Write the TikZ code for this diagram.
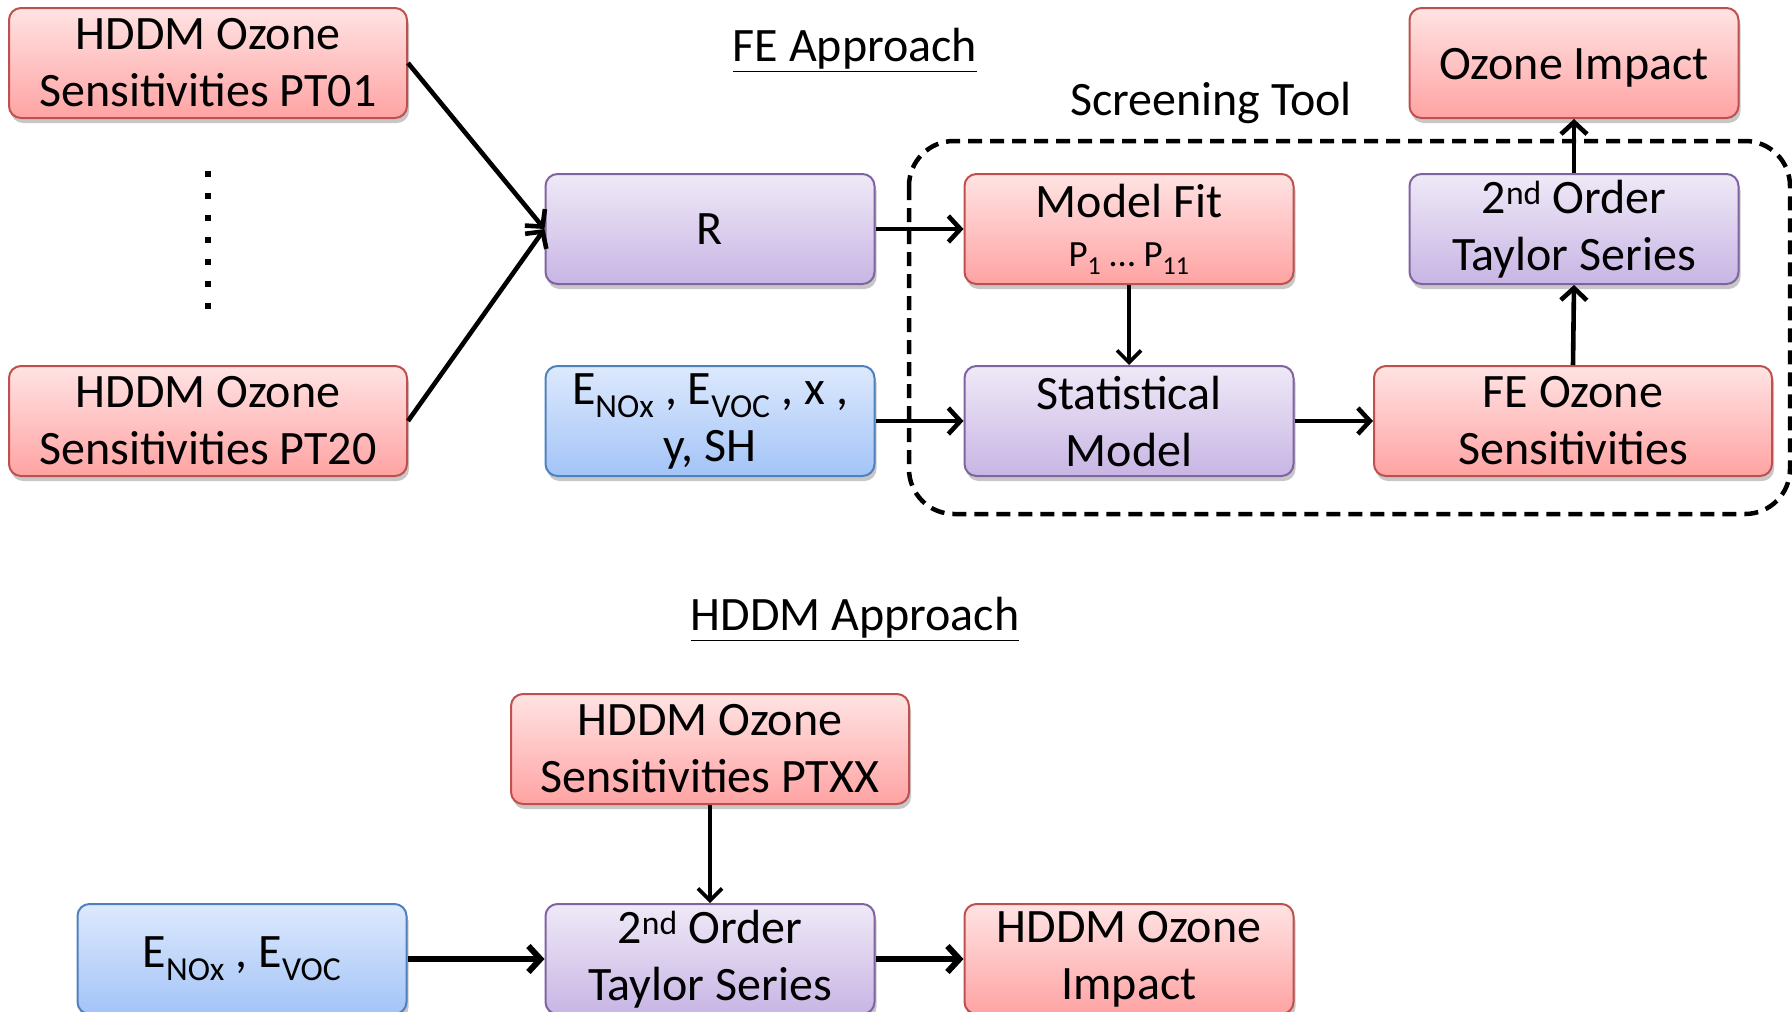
\documentclass[tikz,border=0pt]{standalone}
\usepackage{fontspec}
\setmainfont{Carlito}
\usetikzlibrary{arrows.meta,shadows}
\definecolor{redB}{HTML}{C0504D}
\definecolor{redT}{HTML}{FFE3E3}
\definecolor{redBot}{HTML}{FFA3A3}
\definecolor{purB}{HTML}{8064A2}
\definecolor{purT}{HTML}{EFE9F7}
\definecolor{purBot}{HTML}{C8B5E4}
\definecolor{bluB}{HTML}{4F81BD}
\definecolor{bluT}{HTML}{DDE9FD}
\definecolor{bluBot}{HTML}{A3C4F7}
\begin{document}
\begin{tikzpicture}[x=1pt,y=-1pt,
  box/.style={rounded corners=12pt, line width=2pt, minimum height=110pt,
    align=center, inner sep=0pt, font=\fontsize{48}{57}\selectfont,
    drop shadow={shadow xshift=2pt, shadow yshift=-5pt, opacity=0.22, fill=black}},
  redbox/.style={box, draw=redB, top color=redT, bottom color=redBot},
  purbox/.style={box, draw=purB, top color=purT, bottom color=purBot},
  blubox/.style={box, draw=bluB, top color=bluT, bottom color=bluBot},
  wbox/.style={minimum width=398pt},
  nbox/.style={minimum width=329pt},
  arr/.style={line width=4.6pt, -{Straight Barb[length=12pt,width=26pt]}},
  thinarr/.style={line width=3.6pt, -{Straight Barb[length=12pt,width=24pt]}},
  fatarr/.style={line width=6pt, -{Straight Barb[length=12pt,width=26pt]}},
  title/.style={font=\fontsize{48}{57}\selectfont, inner sep=0pt},
]
\useasboundingbox (0,0) rectangle (1792,1012);

% screening tool frame
\draw[line width=4.5pt, dash pattern=on 14pt off 8pt, rounded corners=45pt]
  (909,141) rectangle (1790,514);

% titles
\node[title] (fetitle) at (855,50) {\underline{FE Approach}};
\node[title] (sctitle) at (1211,103) {Screening Tool};
\node[title] (hdtitle) at (855,619) {\underline{HDDM Approach}};

% FE approach nodes
\node[redbox, wbox] (pt01) at (208,63) {HDDM Ozone\\Sensitivities PT01};
\node[redbox, wbox] (pt20) at (208,421) {HDDM Ozone\\Sensitivities PT20};
\draw[line width=6pt, dash pattern=on 6pt off 16pt] (208,171) -- (208,312);
\node[purbox, nbox] (r) at (710,229) {R};
\node[blubox, nbox] (e) at (710,421) {E\textsubscript{NOx} , E\textsubscript{VOC} , x ,\\y, SH};
\node[redbox, nbox] (fit) at (1129,229) {Model Fit\\[-8pt]{\fontsize{37}{40}\selectfont P\textsubscript{1} … P\textsubscript{11}}};
\node[purbox, nbox] (stat) at (1129,421) {Statistical\\Model};
\node[redbox, wbox] (fe) at (1573,421) {FE Ozone\\Sensitivities};
\node[purbox, nbox] (t2) at (1574,229) {2\textsuperscript{nd} Order\\Taylor Series};
\node[redbox, nbox] (oz) at (1574,63) {\raisebox{-5pt}[\height][\depth]{Ozone Impact}};

% HDDM approach nodes
\node[redbox, wbox] (ptxx) at (710,749) {HDDM Ozone\\Sensitivities PTXX};
\node[blubox, nbox] (eb) at (242,959) {E\textsubscript{NOx} , E\textsubscript{VOC}};
\node[purbox, nbox] (t2b) at (710,959) {2\textsuperscript{nd} Order\\Taylor Series};
\node[redbox, nbox] (himp) at (1129,959) {HDDM Ozone\\Impact};

% connectors
\draw[arr] (pt01.east) -- (r.west);
\draw[arr] (pt20.east) -- (r.west);
\draw[arr] (r.east) -- (fit.west);
\draw[arr] (e.east) -- (stat.west);
\draw[thinarr] (fit.south) -- (stat.north);
\draw[arr] (stat.east) -- (fe.west);
\draw[arr] (fe.north) -- (t2.south);
\draw[arr] (t2.north) -- (oz.south);
\draw[thinarr] (ptxx.south) -- (t2b.north);
\draw[fatarr] (eb.east) -- (t2b.west);
\draw[fatarr] (t2b.east) -- (himp.west);
\end{tikzpicture}
\end{document}
